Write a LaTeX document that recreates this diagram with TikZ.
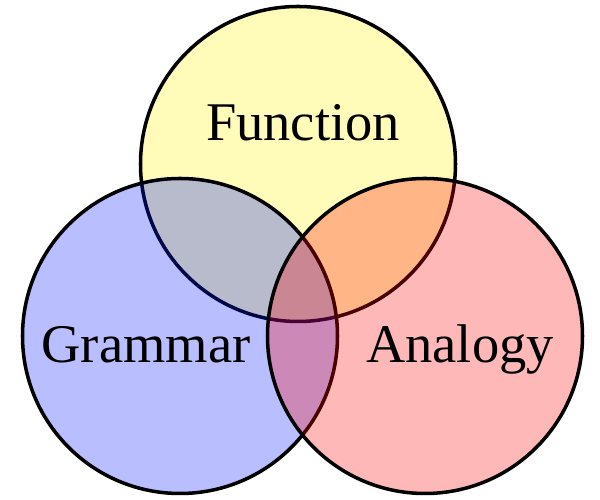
\documentclass[tikz,border=0pt]{standalone}
\usepackage{fontspec}
\setmainfont{Liberation Serif}
\definecolor{grammarblue}{RGB}{0,20,255}
\begin{document}
\begin{tikzpicture}[set/.style={draw=black, line width=2pt, fill opacity=0.28},
	setlabel/.style={anchor=base, font=\fontsize{31}{36}\selectfont}]
			\useasboundingbox (0,0) rectangle (12,10);
			\draw[set, fill=yellow] (5.96,6.72) circle (3.15);
			\draw[set, fill=grammarblue] (3.6,3.28) circle (3.15);
			\draw[set, fill=red] (8.5,3.28) circle (3.15);
			\path 
			(6.06,7.18) node[setlabel] (function) {Function}
			(2.92,2.74) node[setlabel] (grammar) {Grammar}
			(9.2,2.74) node[setlabel] (analogy) {Analogy}
			;
		\end{tikzpicture}
\end{document}
